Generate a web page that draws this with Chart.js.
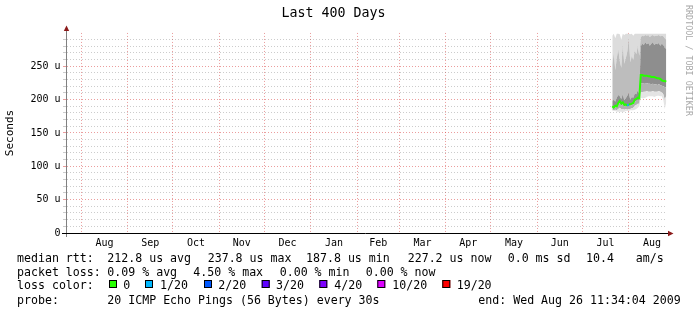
<!DOCTYPE html>
<html>
<head>
<meta charset="utf-8">
<script src="https://cdn.jsdelivr.net/npm/chart.js@4.4.1/dist/chart.umd.min.js"></script>
<style>
  html, body { margin: 0; padding: 0; background: #fff; }
  canvas { display: block; }
</style>
</head>
<body>
<canvas id="smoke" width="697" height="316"></canvas>
<script>
// time range of the graph (400 days back from the end stamp)
const endTime = Date.UTC(2009, 7, 26, 11, 34, 4);
const startTime = endTime - 400 * 86400000;

// month boundaries (grid) and the labels centred in each month
const monthStarts = ['2008-08-01', '2008-09-01', '2008-10-01', '2008-11-01', '2008-12-01', '2009-01-01',
  '2009-02-01', '2009-03-01', '2009-04-01', '2009-05-01', '2009-06-01', '2009-07-01', '2009-08-01', '2009-09-01'];
const monthLabels = ['Aug', 'Sep', 'Oct', 'Nov', 'Dec', 'Jan', 'Feb', 'Mar', 'Apr', 'May', 'Jun', 'Jul', 'Aug'];

// one sample per day, values in microseconds
const days = ['2009-07-21', '2009-07-22', '2009-07-23', '2009-07-24', '2009-07-25', '2009-07-26', '2009-07-27',
  '2009-07-28', '2009-07-29', '2009-07-30', '2009-07-31', '2009-08-01', '2009-08-02', '2009-08-03', '2009-08-04',
  '2009-08-05', '2009-08-06', '2009-08-07', '2009-08-08', '2009-08-09', '2009-08-10', '2009-08-11', '2009-08-12',
  '2009-08-13', '2009-08-14', '2009-08-15', '2009-08-16', '2009-08-17', '2009-08-18', '2009-08-19', '2009-08-20',
  '2009-08-21', '2009-08-22', '2009-08-23', '2009-08-24', '2009-08-25', '2009-08-26'];
const pingMedian = [190, 188, 191, 190, 195, 198, 194, 196, 192, 193, 191, 193, 193, 194, 195, 200, 201, 203, 202,
  237, 237, 236, 236, 236, 235, 235, 234, 234, 234, 233, 232, 232, 231, 229, 228, 228, 227];
const pingLo = [183, 183, 183, 182, 182, 182, 182, 181, 182, 183, 183, 183, 184, 184, 184, 185, 186, 188, 190,
  203, 202, 202, 203, 204, 205, 205, 205, 205, 204, 205, 206, 206, 205, 205, 200, 186, 196];
const pingP10 = [185, 184, 185, 184, 186, 188, 186, 186, 185, 186, 185, 186, 186, 187, 188, 191, 192, 194, 194,
  211, 211, 212, 212, 213, 212, 212, 212, 213, 212, 212, 212, 213, 212, 211, 208, 200, 206];
const pingQ1 = [187, 186, 189, 188, 192, 195, 191, 193, 190, 191, 189, 191, 191, 192, 193, 197, 198, 200, 199,
  224, 225, 224, 224, 225, 224, 224, 223, 224, 223, 223, 222, 223, 222, 221, 220, 219, 218];
const pingQ3 = [198, 200, 197, 203, 207, 205, 201, 208, 199, 202, 206, 210, 200, 204, 203, 209, 208, 214, 208,
  280, 284, 282, 286, 283, 285, 281, 284, 286, 282, 284, 283, 285, 281, 284, 282, 278, 276];
const pingP90 = [252, 270, 244, 262, 276, 258, 248, 282, 254, 262, 272, 292, 256, 266, 260, 274, 268, 280, 266,
  294, 296, 295, 297, 296, 297, 294, 296, 297, 295, 296, 296, 297, 295, 296, 295, 292, 290];
const pingHi = [296, 299, 292, 299, 299, 298, 290, 299, 297, 299, 299, 299, 298, 299, 296, 299, 299, 299, 299,
  299, 299, 299, 299, 299, 299, 299, 299, 299, 299, 299, 299, 299, 299, 299, 299, 299, 299];
const lossCount = [0, 0, 0, 0, 0, 0, 0, 0, 0, 0, 0, 1, 0, 0, 0, 0, 0, 0, 0,
  0, 0, 0, 0, 0, 0, 0, 0, 0, 0, 0, 0, 0, 0, 0, 0, 0, 0];

// loss legend
const lossSteps = [0, 1, 2, 3, 4, 10, 19];
const lossLabels = ['0', '1/20', '2/20', '3/20', '4/20', '10/20', '19/20'];
const lossColors = ['#26ff00', '#00b8ff', '#0059ff', '#5e00ff', '#7e00ff', '#dd00ff', '#ff0000'];

// summary text
const statRows = [
  ['median rtt:', '212.8 us avg', '237.8 us max', '187.8 us min', '227.2 us now', '0.0 ms sd', '10.4', 'am/s'],
  ['packet loss:', '0.09 % avg', '4.50 % max', '0.00 % min', '0.00 % now'],
  ['loss color:'],
  ['probe:', '20 ICMP Echo Pings (56 Bytes) every 30s', 'end: Wed Aug 26 11:34:04 2009']
];

const MONO = '"DejaVu Sans Mono", monospace';
const MAJOR = 'rgba(215,60,60,0.5)';
const MINOR = 'rgba(120,120,120,0.38)';
const DAY0 = days.map(d => Date.parse(d));
const pts = arr => arr.map((v, i) => ({ x: DAY0[i], y: v }));

function lossColor(n) {
  let c = lossColors[0];
  lossSteps.forEach((s, i) => { if (n >= s) c = lossColors[i]; });
  return c;
}

const gridTicks = monthStarts.map(d => Date.parse(d)).filter(t => t >= startTime && t <= endTime);
const labelTicks = monthLabels.map((m, i) => (Date.parse(monthStarts[i]) + Date.parse(monthStarts[i + 1])) / 2);

function band(data, color) {
  return { data: pts(data), fill: '-1', backgroundColor: color, borderWidth: 0, pointRadius: 0, tension: 0 };
}

// axis lines, arrows, watermark and the text block under the graph
const rrdDecor = {
  id: 'rrdDecor',
  beforeDraw(chart) {
    const c = chart.ctx;
    c.save();
    c.fillStyle = '#fff';
    c.fillRect(0, 0, chart.width, chart.height);
    c.restore();
  },
  afterDraw(chart) {
    const c = chart.ctx;
    const { left, right, top, bottom } = chart.chartArea;
    c.save();
    c.lineWidth = 1;
    c.strokeStyle = '#808080';
    c.beginPath(); c.moveTo(left - 0.5, top - 3); c.lineTo(left - 0.5, bottom + 4); c.stroke();
    c.strokeStyle = '#000';
    c.beginPath(); c.moveTo(left - 5, bottom + 0.5); c.lineTo(right + 2, bottom + 0.5); c.stroke();
    c.fillStyle = '#8b1a1a';
    c.beginPath(); c.moveTo(left - 3.2, top - 2); c.lineTo(left + 2.2, top - 2); c.lineTo(left - 0.5, top - 7.5); c.fill();
    c.beginPath(); c.moveTo(right + 1, bottom - 2.3); c.lineTo(right + 1, bottom + 3.3); c.lineTo(right + 6.5, bottom + 0.5); c.fill();

    // watermark
    c.save();
    c.translate(688, 5);
    c.rotate(Math.PI / 2);
    c.fillStyle = '#a8a8a8';
    c.font = '8.4px ' + MONO;
    c.textBaseline = 'middle';
    c.fillText('RRDTOOL / TOBI OETIKER', 0, 0);
    c.restore();

    // text block
    c.fillStyle = '#000';
    c.font = '11.6px ' + MONO;
    c.textBaseline = 'alphabetic';
    const rowY = [261.5, 275.8, 289, 304];
    const rowX = [
      [17, 107.3, 207.7, 306, 407.7, 507.7, 586, 635.7],
      [17, 107.3, 193.3, 279.7, 365.7],
      [17],
      [17, 107.3, 478.3]
    ];
    statRows.forEach((row, r) => row.forEach((txt, k) => c.fillText(txt, rowX[r][k], rowY[r])));

    const boxX = [109, 145, 204, 261.7, 319.3, 377.3, 442.3];
    const txtX = [123.3, 160, 218.3, 276, 334.3, 392.3, 456.7];
    lossLabels.forEach((lab, i) => {
      c.fillStyle = lossColors[i];
      c.fillRect(boxX[i], 280, 8, 8);
      c.strokeStyle = '#000';
      c.strokeRect(boxX[i] + 0.5, 280.5, 7, 7);
      c.fillStyle = '#000';
      c.fillText(lab, txtX[i], rowY[2]);
    });
    c.restore();
  }
};

new Chart(document.getElementById('smoke'), {
  type: 'line',
  data: {
    datasets: [
      {
        data: pts(pingMedian), fill: false, borderWidth: 2, pointRadius: 0, tension: 0,
        borderColor: '#26ff00',
        segment: { borderColor: ctx => lossColor(lossCount[ctx.p1DataIndex]) }
      },
      { data: pts(pingLo), fill: false, borderWidth: 0, pointRadius: 0 },
      band(pingP10, '#e4e4e4'),
      band(pingQ1, '#b0b0b0'),
      band(pingQ3, '#8e8e8e'),
      band(pingP90, '#bdbdbd'),
      band(pingHi, '#dcdcdc')
    ]
  },
  options: {
    responsive: false,
    animation: false,
    events: [],
    layout: { padding: { top: 0, right: 30, bottom: 63, left: 0 } },
    plugins: {
      legend: { display: false },
      tooltip: { enabled: false },
      title: {
        display: true,
        text: 'Last 400 Days',
        color: '#000',
        font: { family: MONO, size: 13.3, weight: 'normal' },
        padding: { top: 6, bottom: 11 }
      }
    },
    scales: {
      x: {
        type: 'linear',
        position: 'bottom',
        min: startTime,
        max: endTime,
        afterBuildTicks: s => { s.ticks = gridTicks.map(v => ({ value: v })); },
        afterFit: s => { s.height = 0; },
        ticks: { display: false },
        grid: { color: MAJOR, drawTicks: false },
        border: { display: false, dash: [1, 2] }
      },
      x2: {
        type: 'linear',
        position: 'bottom',
        min: startTime,
        max: endTime,
        afterBuildTicks: s => { s.ticks = labelTicks.map(v => ({ value: v })); },
        afterFit: s => { s.height = 20; },
        ticks: {
          autoSkip: false, maxRotation: 0, padding: 4, color: '#000',
          font: { family: MONO, size: 10 },
          callback: (v, i) => monthLabels[i]
        },
        grid: { display: false, drawTicks: false },
        border: { display: false }
      },
      y: {
        min: 0,
        max: 300,
        afterBuildTicks: s => { s.ticks = s.ticks.filter(t => t.value % 10 === 0 && t.value < 300); },
        afterFit: s => { s.width = 67; },
        ticks: {
          stepSize: 10, autoSkip: false, padding: 2.5, color: '#000',
          font: { family: MONO, size: 10 },
          callback: v => (v % 50 === 0 ? (v === 0 ? '0' : v + ' u') : '')
        },
        grid: {
          tickLength: 4,
          color: ctx => (ctx.tick && ctx.tick.value % 50 === 0 ? MAJOR : MINOR)
        },
        border: { display: false, dash: [1, 2] },
        title: {
          display: true, text: 'Seconds', color: '#000',
          font: { family: MONO, size: 11 },
          padding: { top: 4, bottom: 4 }
        }
      }
    }
  },
  plugins: [rrdDecor]
});
</script>
</body>
</html>
